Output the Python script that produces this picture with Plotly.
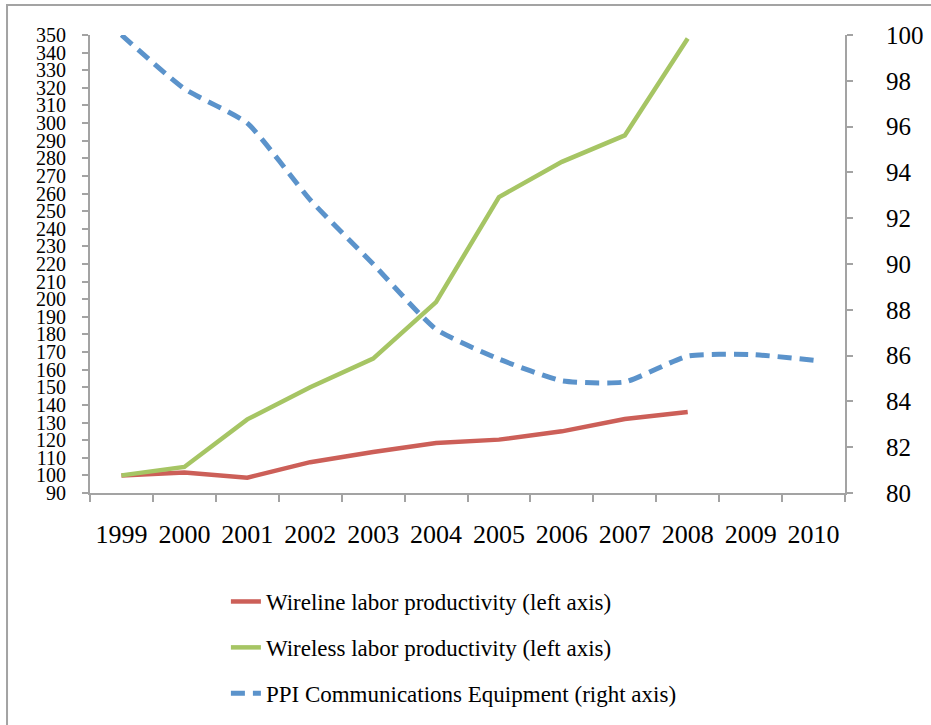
import plotly.graph_objects as go

years = ["1999", "2000", "2001", "2002", "2003", "2004", "2005", "2006", "2007", "2008", "2009", "2010"]
wireline = [100, 101.6, 98.7, 107.5, 113.3, 118.4, 120.3, 125.0, 132.0, 136.0]
wireless = [100, 104.8, 131.8, 150.0, 166.3, 198.4, 258.0, 278.0, 293.0, 348.0]
ppi = [100, 97.65, 96.15, 92.8, 90.0, 87.15, 85.85, 84.9, 84.85, 85.98, 86.05, 85.8]

names = ["Wireline labor productivity (left axis)",
         "Wireless labor productivity (left axis)",
         "PPI Communications Equipment (right axis)"]

FONT = "Liberation Serif"
AXC = "#A3A3A3"

fig = go.Figure()
fig.add_trace(go.Scatter(x=years[:len(wireline)], y=wireline, mode="lines", name=names[0],
                         legendgroup="a", line=dict(color="#CC5F58", width=4.5)))
fig.add_trace(go.Scatter(x=years[:len(wireless)], y=wireless, mode="lines", name=names[1],
                         legendgroup="b", line=dict(color="#A6C564", width=4.5)))
fig.add_trace(go.Scatter(x=years, y=ppi, mode="lines", name=names[2], yaxis="y2",
                         legendgroup="c",
                         line=dict(color="#5B93CB", width=5, dash="14px,8px", shape="spline", smoothing=0.5)))

fig.update_layout(
    width=931, height=725,
    margin=dict(l=90, r=86, t=35, b=232, autoexpand=False),
    paper_bgcolor="white", plot_bgcolor="white",
    font=dict(family=FONT, color="black"),
    showlegend=True,
    legend=dict(x=0.18, y=-0.19, xanchor="left", yanchor="top",
                font=dict(family=FONT, size=23, color="black"),
                tracegroupgap=13, traceorder="grouped", bgcolor="rgba(0,0,0,0)"),
    xaxis=dict(type="category", categoryarray=years, range=[-0.5, 11.5], automargin=False,
               showline=True, linecolor=AXC, linewidth=2, showgrid=False, zeroline=False,
               ticks="outside", ticklen=7, tickcolor=AXC, tickwidth=2, tickson="boundaries",
               tickangle=0, tickfont=dict(family=FONT, size=26), ticklabelstandoff=17),
    yaxis=dict(range=[90, 350], tickmode="linear", tick0=90, dtick=10, automargin=False,
               showline=True, linecolor=AXC, linewidth=2, showgrid=False, zeroline=False,
               ticks="outside", ticklen=6, tickcolor=AXC, tickwidth=2,
               tickfont=dict(family=FONT, size=20), ticklabelstandoff=12),
    yaxis2=dict(range=[80, 100], tickmode="linear", tick0=80, dtick=2, overlaying="y", side="right",
                automargin=False,
                showline=True, linecolor=AXC, linewidth=2, showgrid=False, zeroline=False,
                ticks="outside", ticklen=6, tickcolor=AXC, tickwidth=2,
                tickfont=dict(family=FONT, size=25), ticklabelstandoff=28),
    shapes=[dict(type="rect", xref="paper", yref="paper", x0=-0.1099, x1=1.2, y0=-0.6, y1=1.0655,
                 line=dict(color=AXC, width=2), fillcolor="rgba(0,0,0,0)", layer="below")],
)

fig.write_html("out.html")
